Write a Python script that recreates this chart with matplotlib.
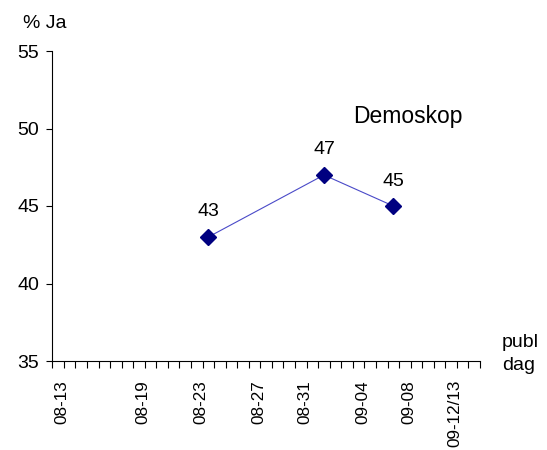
import matplotlib
matplotlib.use("Agg")
import matplotlib.pyplot as plt
import matplotlib.transforms as mtransforms
from matplotlib.ticker import FixedLocator, NullFormatter

plt.rcParams['font.family'] = ['Liberation Sans', 'DejaVu Sans']

n_categories = 37
label_positions = [0, 7, 12, 17, 21, 26, 30, 34]
tick_labels = ["08-13", "08-19", "08-23", "08-27", "08-31", "09-04", "09-08", "09-12/13"]
point_positions = [13, 23, 29]
values = [43, 47, 45]

fig = plt.figure(figsize=(5.47, 4.5), dpi=100)
ax = fig.add_axes([52.3/547, 1 - 361/450, (480 - 52.3)/547, (361 - 51)/450])

ax.plot(point_positions, values, color='#4a4ac8', linewidth=0.8, zorder=2)
ax.plot(point_positions, values, linestyle='none', marker='D', markersize=8,
        color='#000080', zorder=3)
for x, v in zip(point_positions, values):
    ax.annotate(str(v), (x, v), xytext=(0, 18), textcoords='offset points',
                ha='center', va='center', fontsize=14)

ax.set_xlim(-0.5, n_categories - 0.5)
ax.set_ylim(35, 55)
ax.set_yticks([35, 40, 45, 50, 55])
ax.tick_params(axis='y', labelsize=14, length=4.5, width=0.8, direction='out', pad=5)

ax.set_xticks(label_positions)
ax.set_xticklabels(tick_labels, rotation=90, fontsize=12.3)
ax.tick_params(axis='x', which='major', length=0, pad=13.6)
shift = mtransforms.ScaledTranslation(4/100, 0, fig.dpi_scale_trans)
for lbl in ax.get_xticklabels():
    lbl.set_transform(lbl.get_transform() + shift)
ax.xaxis.set_minor_locator(FixedLocator([i - 0.5 for i in range(n_categories + 1)]))
ax.xaxis.set_minor_formatter(NullFormatter())
ax.tick_params(axis='x', which='minor', length=5, width=0.8, direction='out')

for s in ['top', 'right']:
    ax.spines[s].set_visible(False)
for s in ['left', 'bottom']:
    ax.spines[s].set_linewidth(0.8)

fig.text(23/547, 1 - 23/450, "% Ja", fontsize=14, ha='left', va='center')
fig.text(353/547, 1 - 116/450, "Demoskop", fontsize=16.5, ha='left', va='center')
fig.text(502/547, 1 - 354/450, "publ\ndag", fontsize=14, ha='left', va='center',
         linespacing=1.45)

fig.savefig("out.png", dpi=100)
